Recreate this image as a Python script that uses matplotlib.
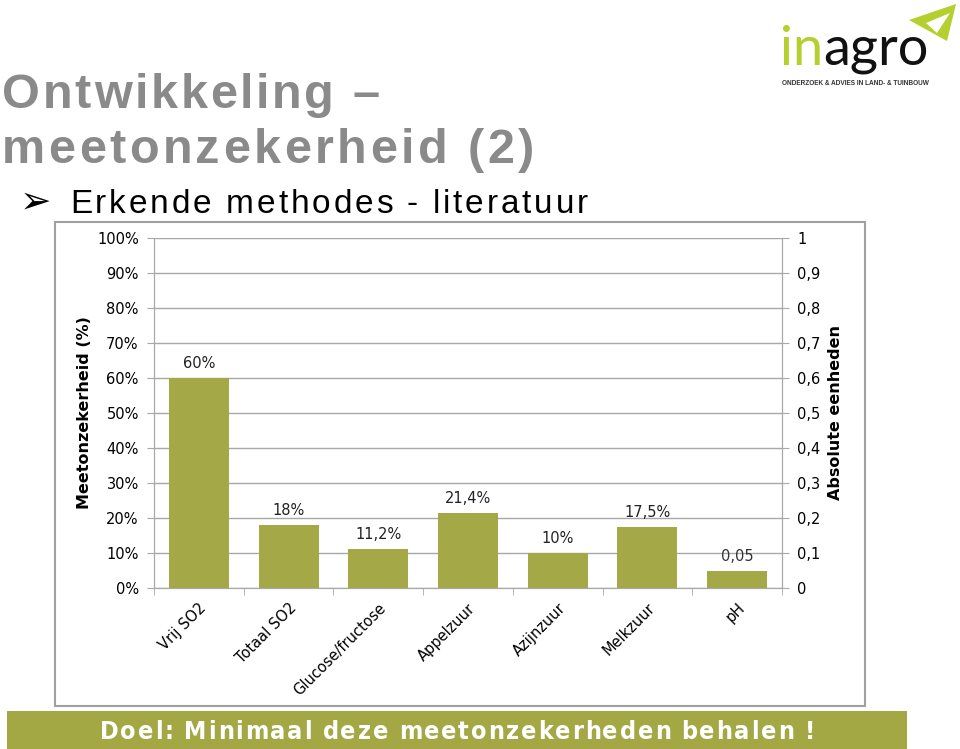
import numpy as np
import matplotlib.pyplot as plt
from matplotlib.patches import Rectangle, Polygon

categories = ['Vrij SO2', 'Totaal SO2', 'Glucose/fructose', 'Appelzuur',
              'Azijnzuur', 'Melkzuur', 'pH']
pct_values = [60, 18, 11.2, 21.4, 10, 17.5]      # left axis (%)
pct_labels = ['60%', '18%', '11,2%', '21,4%', '10%', '17,5%']
abs_values = [0.05]                              # pH, right axis (absolute)
abs_labels = ['0,05']
left_ticks = list(range(0, 101, 10))
left_ticklabels = ['%d%%' % v for v in left_ticks]
right_ticks = [i / 10 for i in range(11)]
right_ticklabels = ['0', '0,1', '0,2', '0,3', '0,4', '0,5', '0,6', '0,7', '0,8', '0,9', '1']

W, H = 960, 749
BAR = '#a4a847'
GRID = '#a8a8a8'
LIME = '#b4cf2e'


def fx(x):
    return x / W


def fy(y):
    return 1 - y / H


def spaced_text(fig, x, y, s, width, **kw):
    """draw s char by char from pixel x (baseline y), spread over width px"""
    r = fig.canvas.get_renderer()
    arts, widths = [], []
    for ch in s:
        t = fig.text(0, 0, 'n' if ch == ' ' else ch, va='baseline', ha='left', **kw)
        w = t.get_window_extent(r).width
        if ch == ' ':
            t.set_text('')
            w *= 0.45
        arts.append(t)
        widths.append(w)
    gap = (width - sum(widths)) / (len(s) - 1)
    pos = x
    for t, w in zip(arts, widths):
        t.set_position((fx(pos), fy(y)))
        pos += w + gap


fig = plt.figure(figsize=(W / 100, H / 100), dpi=100)
fig.patch.set_facecolor('white')

# chart frame
fig.add_artist(Rectangle((fx(55), fy(706)), fx(810), (706 - 222) / H,
                         transform=fig.transFigure, fill=False,
                         edgecolor='#a0a0a0', lw=1.5))

ax = fig.add_axes([fx(154), fy(588), fx(628), 350 / H])
x = np.arange(len(categories))
ax.bar(x[:len(pct_values)], pct_values, width=0.67, color=BAR, zorder=3)
for xi, v, lab in zip(x, pct_values, pct_labels):
    ax.annotate(lab, (xi, v), xytext=(0, 5), textcoords='offset points',
                ha='center', va='bottom', fontsize=10.5, color='#222222')
ax.set_xlim(-0.5, len(categories) - 0.5)
ax.set_ylim(0, 100)
ax.set_yticks(left_ticks)
ax.set_yticklabels(left_ticklabels)
ax.yaxis.grid(True, color=GRID, lw=1, zorder=0)
ax.set_xticks(x)
ax.set_xticklabels(categories, rotation=45, ha='right', rotation_mode='anchor')
ax.set_xticks(np.arange(-0.5, len(categories)), minor=True)
ax.tick_params(axis='x', which='major', length=0, pad=9, labelsize=10.5)
ax.tick_params(axis='x', which='minor', length=5, color=GRID)
ax.tick_params(axis='y', length=5, color=GRID, labelsize=10.5, pad=6)
ax.spines['top'].set_visible(False)
for sp in ['left', 'right', 'bottom']:
    ax.spines[sp].set_color(GRID)
ax.set_ylabel('Meetonzekerheid (%)', fontsize=11.5, fontweight='bold')
ax.yaxis.set_label_coords(-0.099, 0.5)

ax2 = ax.twinx()
ax2.bar(x[len(pct_values):], abs_values, width=0.67, color=BAR, zorder=3)
for xi, v, lab in zip(x[len(pct_values):], abs_values, abs_labels):
    ax2.annotate(lab, (xi, v), xytext=(0, 5), textcoords='offset points',
                 ha='center', va='bottom', fontsize=10.5, color='#333333')
ax2.set_ylim(0, 1)
ax2.set_yticks(right_ticks)
ax2.set_yticklabels(right_ticklabels)
ax2.tick_params(axis='y', length=5, color=GRID, labelsize=10.5, pad=6)
ax2.spines['top'].set_visible(False)
for sp in ['left', 'right', 'bottom']:
    ax2.spines[sp].set_color(GRID)
ax2.set_ylabel('Absolute eenheden', fontsize=11.5, fontweight='bold', rotation=90)
ax2.yaxis.set_label_coords(1.073, 0.5)

# title block
spaced_text(fig, 2, 108, 'Ontwikkeling \u2013', 378, fontsize=35,
            fontweight='bold', color='#8a8a8a', family='Liberation Sans')
spaced_text(fig, 2, 163, 'meetonzekerheid (2)', 532, fontsize=35,
            fontweight='bold', color='#8a8a8a', family='Liberation Sans')
fig.text(fx(20), fy(213), '\u27a2', fontsize=27, family='DejaVu Sans',
         va='baseline', color='black')
spaced_text(fig, 70, 213, 'Erkende methodes - literatuur', 518, fontsize=24,
            color='black', family='Liberation Sans')

# logo
fig.text(fx(780), fy(65), 'in', fontsize=39, family='Lato', color=LIME,
         va='baseline', ha='left')
fig.text(fx(823), fy(65), 'agro', fontsize=39, family='Lato', color='#111111',
         va='baseline', ha='left')
fig.text(fx(782), fy(85), 'ONDERZOEK & ADVIES IN LAND- & TUINBOUW', fontsize=4.7,
         family='Liberation Sans', fontweight='bold', color='#333333',
         va='baseline', ha='left')
fig.add_artist(Polygon([(fx(909), fy(20)), (fx(956), fy(4)), (fx(947), fy(41))],
                       closed=True, transform=fig.transFigure,
                       facecolor=LIME, edgecolor='none'))
fig.add_artist(Polygon([(fx(926), fy(23)), (fx(950), fy(13)), (fx(937), fy(33))],
                       closed=True, transform=fig.transFigure,
                       facecolor='white', edgecolor='none'))

# bottom banner
fig.add_artist(Rectangle((fx(7), 0), fx(900), 38 / H, transform=fig.transFigure,
                         facecolor='#a3a845', edgecolor='none'))
spaced_text(fig, 100, 739, 'Doel: Minimaal deze meetonzekerheden behalen !', 715,
            fontsize=18, fontweight='bold', color='white',
            family='DejaVu Sans', fontstretch='condensed')

fig.savefig('out.png', dpi=100, facecolor='white')
